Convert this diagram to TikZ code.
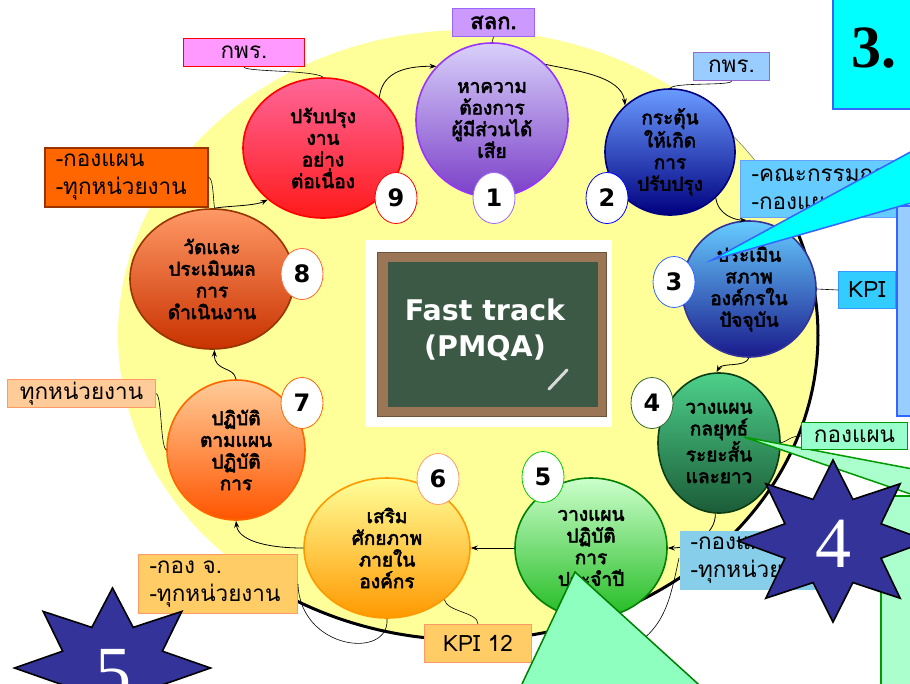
\documentclass[tikz,border=0pt]{standalone}
\usepackage{fontspec}
\newfontfamily\thai[Script=Thai]{Loma}
\newfontfamily\thaib[Script=Thai,FakeBold=3]{Loma}
\newfontfamily\sansb{DejaVu Sans Bold}
\newfontfamily\serifnum{Liberation Serif}
\usetikzlibrary{shapes.geometric,arrows.meta}
\definecolor{ybg}{HTML}{FFFF99}
\definecolor{c1t}{HTML}{D8D0FA}\definecolor{c1b}{HTML}{7B3FC8}\definecolor{c1d}{HTML}{9933FF}
\definecolor{c2t}{HTML}{6A9BFF}\definecolor{c2b}{HTML}{00007F}\definecolor{c2d}{HTML}{000080}
\definecolor{c3t}{HTML}{66CCFF}\definecolor{c3b}{HTML}{1A1A8C}\definecolor{c3d}{HTML}{333399}
\definecolor{c4t}{HTML}{4DD08A}\definecolor{c4b}{HTML}{1B5C38}\definecolor{c4d}{HTML}{0B3D14}
\definecolor{c5t}{HTML}{CCFFCC}\definecolor{c5b}{HTML}{22BB22}\definecolor{c5d}{HTML}{008000}
\definecolor{c6t}{HTML}{FFFF99}\definecolor{c6b}{HTML}{FF9900}\definecolor{c6d}{HTML}{FF9900}
\definecolor{c7t}{HTML}{FFCC99}\definecolor{c7b}{HTML}{FF5500}\definecolor{c7d}{HTML}{FF6600}
\definecolor{c8t}{HTML}{FF9966}\definecolor{c8b}{HTML}{C83200}\definecolor{c8d}{HTML}{993300}
\definecolor{c9t}{HTML}{FF6699}\definecolor{c9b}{HTML}{FF1A1A}\definecolor{c9d}{HTML}{FF0000}
\definecolor{b1d}{HTML}{9966FF}\definecolor{b2d}{HTML}{0000FF}\definecolor{b3d}{HTML}{3366FF}
\definecolor{b4d}{HTML}{336633}\definecolor{b5d}{HTML}{00CC00}\definecolor{b6d}{HTML}{FF9966}
\definecolor{b7d}{HTML}{FF6600}\definecolor{b8d}{HTML}{FF6633}\definecolor{b9d}{HTML}{FF0000}
\definecolor{slkf}{HTML}{CC99FF}\definecolor{slkd}{HTML}{9966FF}
\definecolor{pinkf}{HTML}{FF99FF}
\definecolor{kprf}{HTML}{99CCFF}\definecolor{kprd}{HTML}{9966CC}
\definecolor{orf}{HTML}{FF6600}\definecolor{ord}{HTML}{993300}
\definecolor{kzf}{HTML}{66CCFF}\definecolor{kzd}{HTML}{66A3FF}
\definecolor{kpif}{HTML}{33CCFF}\definecolor{kpid}{HTML}{3399FF}
\definecolor{grf}{HTML}{99FFCC}\definecolor{grd}{HTML}{009900}
\definecolor{skyf}{HTML}{87CEEB}
\definecolor{pef}{HTML}{FFCC99}\definecolor{ped}{HTML}{FF9966}
\definecolor{kjf}{HTML}{FFCC66}
\definecolor{cyanf}{HTML}{00FFFF}\definecolor{blued}{HTML}{3366FF}
\definecolor{tallf}{HTML}{99CCFF}
\definecolor{lgreen}{HTML}{AAFFCC}\definecolor{mint}{HTML}{8FFFC0}
\definecolor{starblue}{HTML}{333399}
\definecolor{framec}{HTML}{9A7656}\definecolor{boardc}{HTML}{3C5945}
\begin{document}
\begin{tikzpicture}[x=1pt,y=-1pt,
  circ/.style={ellipse, inner sep=0pt, align=center, font=\thaib\fontsize{19}{21.7}\selectfont, line width=1.6pt},
  badge/.style={ellipse, fill=white, inner sep=0pt, minimum width=42pt, minimum height=51pt, line width=0.8pt, font=\sansb\fontsize{24}{24}\selectfont},
  lbl/.style={rectangle, inner sep=0pt, line width=1pt, anchor=north west, font=\thai\fontsize{22.5}{28.5}\selectfont},
  conn/.style={line width=0.8pt, -{Stealth[length=7pt,width=5pt]}},
  link/.style={line width=0.6pt},
  starsty/.style={fill=starblue, draw=black, line width=1.6pt, line join=miter}]
\useasboundingbox (0,0) rectangle (910,683);
\clip (0,0) rectangle (910,683);
% background ellipse
\fill[ybg] (468,335) ellipse [x radius=350, y radius=305];
\draw[gray, line width=0.6pt, domain=-42:-20, samples=20, variable=\t] plot ({468+350*cos(\t)},{335+305*sin(\t)});
\draw[line width=3pt, domain=-20:122, samples=100, variable=\t] plot ({468+350*cos(\t)},{335+305*sin(\t)});
% circles
\node[circ, minimum width=152pt, minimum height=154pt, draw=c1d, top color=c1t, bottom color=c1b] (n1) at (492,120) {หาความ\\ต้องการ\\ผู้มีส่วนได้\\เสีย};
\node[circ, minimum width=130pt, minimum height=126pt, draw=c2d, top color=c2t, bottom color=c2b] (n2) at (670,152) {กระตุ้น\\ให้เกิด\\การ\\ปรับปรุง};
\node[circ, minimum width=134pt, minimum height=136pt, draw=c3d, top color=c3t, bottom color=c3b] (n3) at (749,289) {ประเมิน\\สภาพ\\องค์กรใน\\ปัจจุบัน};
\node[circ, minimum width=122pt, minimum height=140pt, draw=c4d, top color=c4t, bottom color=c4b] (n4) at (719,443) {วางแผน\\กลยุทธ์\\ระยะสั้น\\และยาว};
\node[circ, minimum width=152pt, minimum height=140pt, draw=c5d, top color=c5t, bottom color=c5b] (n5) at (591,548) {วางแผน\\ปฏิบัติ\\การ\\ประจำปี};
\node[circ, minimum width=166pt, minimum height=140pt, draw=c6d, top color=c6t, bottom color=c6b] (n6) at (387,548) {เสริม\\ศักยภาพ\\ภายใน\\องค์กร};
\node[circ, minimum width=138pt, minimum height=140pt, draw=c7d, top color=c7t, bottom color=c7b] (n7) at (236,450) {ปฏิบัติ\\ตามแผน\\ปฏิบัติ\\การ};
\node[circ, minimum width=164pt, minimum height=140pt, draw=c8d, top color=c8t, bottom color=c8b] (n8) at (212,279) {วัดและ\\ประเมินผล\\การ\\ดำเนินงาน};
\node[circ, minimum width=160pt, minimum height=140pt, draw=c9d, top color=c9t, bottom color=c9b] (n9) at (323,148) {ปรับปรุง\\งาน\\อย่าง\\ต่อเนื่อง};
% cycle connectors
\draw[conn] (n9.42) .. controls (382,75) and (400,66) .. (n1.136);
\draw[conn] (n1.46) .. controls (570,70) and (622,75) .. (n2.134);
\draw[conn] (n2.-45) .. controls (718,215) and (735,220) .. (n3.92);
\draw[conn] (n3.-90) .. controls (745,368) and (722,362) .. (n4.92);
\draw[conn] (n4.-93) .. controls (716,535) and (690,548) .. (n5.0);
\draw[conn] (n5.180) -- (n6.0);
\draw[conn] (n6.180) .. controls (265,548) and (238,540) .. (n7.-90);
\draw[conn] (n7.90) .. controls (234,366) and (214,372) .. (n8.-88);
\draw[conn] (n8.88) .. controls (225,206) and (255,206) .. (n9.-137);
% badges
\node[badge, draw=b9d] (b9) at (396,198) {9};
\node[badge, draw=b1d] (b1) at (494,198) {1};
\node[badge, draw=b2d] (b2) at (607,198) {2};
\node[badge, draw=b3d] (b3) at (674,282) {3};
\node[badge, draw=b4d] (b4) at (652,403) {4};
\node[badge, draw=b5d] (b5) at (543,477) {5};
\node[badge, draw=b6d] (b6) at (438,479) {6};
\node[badge, draw=b7d] (b7) at (302,403) {7};
\node[badge, draw=b8d] (b8) at (302,274) {8};
% labels
\node[lbl, fill=slkf, draw=slkd, minimum width=82pt, minimum height=28pt, font=\thaib\fontsize{22}{24}\selectfont] (lslk) at (452,8) {สลก.};
\node[lbl, fill=pinkf, draw=red, minimum width=121pt, minimum height=28pt] (lkpr1) at (183,38) {กพร.};
\node[lbl, fill=kprf, draw=kprd, minimum width=76pt, minimum height=28pt] (lkpr2) at (693,52) {กพร.};
\node[lbl, fill=orf, draw=ord, line width=1.5pt, minimum width=163pt, minimum height=59pt, text width=141pt, align=left] (lor) at (44,147) {\mbox{-กองแผน}\\\mbox{-ทุกหน่วยงาน}};
\node[lbl, fill=kzf, draw=kzd, minimum width=157pt, minimum height=57pt, text width=135pt, align=left] (lkz) at (740,160) {\mbox{-คณะกรรมการ}\\\mbox{-กองแผน}};
\node[lbl, fill=kpif, draw=kpid, minimum width=57pt, minimum height=37pt] (lkpi) at (838,271) {KPI};
\node[lbl, fill=pef, draw=ped, minimum width=148pt, minimum height=28pt] (lpe) at (7,379) {ทุกหน่วยงาน};
\node[lbl, fill=kjf, draw=ped, minimum width=159pt, minimum height=59pt, text width=137pt, align=left] (lkj) at (138,554) {\mbox{-กอง จ.}\\\mbox{-ทุกหน่วยงาน}};
\node[lbl, fill=kjf, draw=ped, minimum width=107pt, minimum height=38pt] (lk12) at (424,624) {KPI 12};
% label links
\draw[link] (lslk.south) -- (n1.north);
\draw[link] (lkpr1.south) .. controls (245,72) and (315,70) .. (n9.north);
\draw[link] (lkpr2.south) .. controls (732,86) and (675,82) .. (n2.north);
\draw[link] (lor.east) .. controls (213,178) and (213,195) .. (n8.88);
\draw[link] (n3.east) -- (lkpi.west);
\draw[link] (lpe.east) .. controls (162,395) and (160,445) .. (n7.180);
\draw[link] (lkj.east) .. controls (300,650) and (390,660) .. (n6.-90);
\draw[link] (lk12.north) .. controls (478,612) and (447,612) .. (n6.-42);
\coordinate (cfree) at (630,648);
\draw[link] (679,558) .. controls (670,600) and (665,628) .. (cfree);
\node[lbl, fill=skyf, minimum width=160pt, minimum height=59pt, text width=138pt, align=left] (lsky) at (679,530) {\mbox{-กองแผน}\\\mbox{-ทุกหน่วยงาน}};
% blackboard
\node[fill=white, minimum width=247pt, minimum height=187pt, inner sep=0pt, anchor=north west] (bbw) at (365,240) {};
\node[fill=framec, draw=framec!70!black, minimum width=229pt, minimum height=164pt, inner sep=0pt, anchor=north west] (bbf) at (377,252) {};
\node[fill=boardc, minimum width=210pt, minimum height=145pt, inner sep=0pt, anchor=north west] (bbg) at (388,262) {};
\node[text=white, align=center, font=\sansb\fontsize{28.5}{36}\selectfont] (bbt) at (485,330) {Fast track\\(PMQA)};
\draw[line width=3pt, gray!30, line cap=round] (549,389) -- (567,370);
% right overlays
\node[fill=tallf, draw=blued, line width=2pt, minimum width=40pt, minimum height=210pt, inner sep=0pt, anchor=north west] (tall) at (896,205) {};
\fill[cyanf, draw=blued, line width=1.5pt] (712,260) -- (960,125) -- (960,189) -- cycle;
\node[fill=cyanf, draw=blued, line width=2pt, minimum width=90pt, minimum height=113pt, inner sep=0pt, anchor=north west] (box3) at (832,-5) {};
\node[anchor=base west, inner sep=0pt, font=\serifnum\bfseries\fontsize{60}{60}\selectfont] (t3) at (851,67) {3.};
\node[fill=lgreen, draw=grd, line width=1.5pt, minimum width=50pt, minimum height=200pt, inner sep=0pt, anchor=north west] (grect) at (880,495) {};
\fill[lgreen, draw=grd, line width=1.5pt] (744,437) -- (960,478) -- (960,511) -- cycle;
\node[lbl, fill=grf, draw=grd, minimum width=106pt, minimum height=27pt] (lgr) at (801,422) {กองแผน};
\draw[link] (lgr.west) .. controls (790,436) and (788,441) .. (n4.0);
\fill[mint, draw=c5d, line width=1.5pt] (575,572) -- (513,703) -- (719,703) -- cycle;
% stars
\draw[starsty] (833,541) +(90:95 and 81) \foreach \k in {0,...,7}{ -- +({112.5+45*\k}:52 and 45) -- +({135+45*\k}:95 and 81)} -- cycle;
\node[anchor=base, inner sep=0pt, text=white, font=\serifnum\fontsize{72}{72}\selectfont] (s4) at (833,567) {4};
\draw[starsty] (112.5,668) +(90:98 and 80) \foreach \k in {0,...,7}{ -- +({112.5+45*\k}:54 and 44) -- +({135+45*\k}:98 and 80)} -- cycle;
\node[anchor=base, inner sep=0pt, text=white, font=\serifnum\fontsize{72}{72}\selectfont] (s5) at (113,696) {5};
\end{tikzpicture}
\end{document}
